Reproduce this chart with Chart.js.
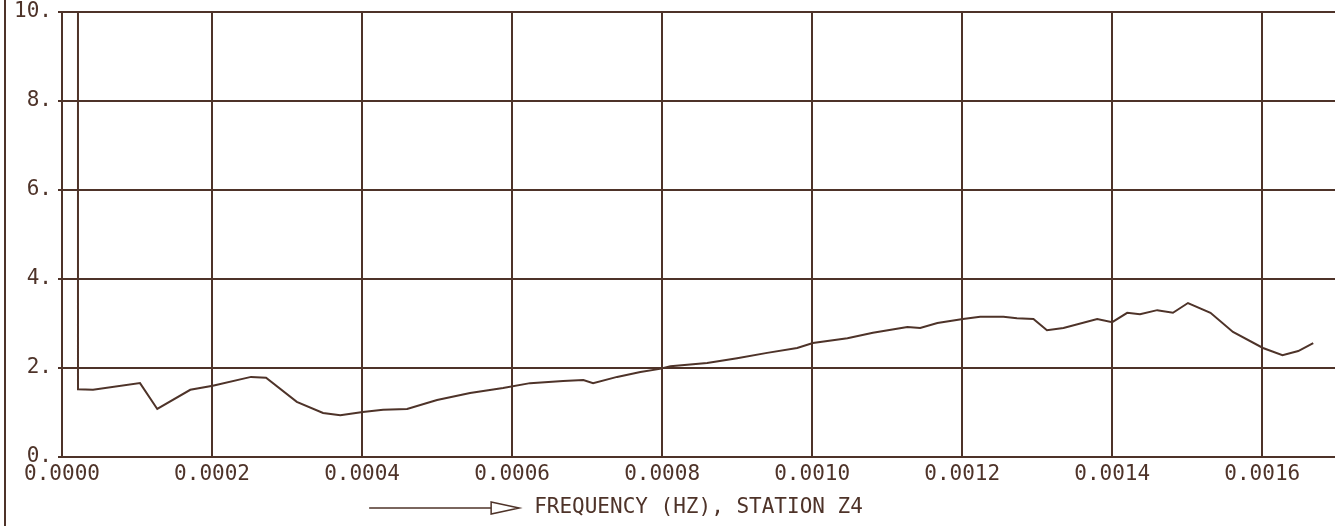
<!DOCTYPE html>
<html>
<head>
<meta charset="utf-8">
<script src="https://cdn.jsdelivr.net/npm/chart.js@4.4.1/dist/chart.umd.min.js"></script>
<style>
  html, body { margin: 0; padding: 0; background: #ffffff; overflow: hidden; }
  #wrap { position: absolute; left: 0; top: 0; width: 1335px; height: 526px; }
</style>
</head>
<body>
<div id="wrap"><canvas id="c" width="1335" height="526"></canvas></div>
<script>
// Frequency (Hz) and amplitude values
const frequency = [
  0.0000213, 0.0000213, 0.0000413, 0.000104, 0.000127, 0.000171, 0.000201, 0.000252,
  0.000272, 0.000313, 0.000348, 0.000371, 0.000401, 0.000428, 0.000460, 0.000500,
  0.000544, 0.000588, 0.000624, 0.000668, 0.000695, 0.000708, 0.000740, 0.000771,
  0.000797, 0.000811, 0.000860, 0.000900, 0.000940, 0.000980, 0.001001, 0.001047,
  0.001081, 0.001113, 0.001127, 0.001144, 0.001167, 0.001201, 0.001224, 0.001255,
  0.001273, 0.001295, 0.001313, 0.001335, 0.001380, 0.001400, 0.001420, 0.001437,
  0.001460, 0.001481, 0.001501, 0.001531, 0.001561, 0.001601, 0.001627, 0.001648,
  0.001668
];
const amplitude = [
  12.0, 1.52, 1.51, 1.66, 1.08, 1.51, 1.60, 1.80,
  1.78, 1.24, 0.99, 0.94, 1.01, 1.06, 1.08, 1.28,
  1.44, 1.55, 1.66, 1.71, 1.73, 1.66, 1.80, 1.91,
  1.98, 2.04, 2.11, 2.22, 2.34, 2.45, 2.56, 2.67,
  2.79, 2.88, 2.92, 2.90, 3.01, 3.10, 3.15, 3.15,
  3.12, 3.10, 2.85, 2.90, 3.10, 3.03, 3.24, 3.21,
  3.30, 3.24, 3.46, 3.24, 2.81, 2.45, 2.29, 2.38,
  2.56
];
const xTickValues = [0, 0.0002, 0.0004, 0.0006, 0.0008, 0.0010, 0.0012, 0.0014, 0.0016];
const xTickLabels = ['0.0000', '0.0002', '0.0004', '0.0006', '0.0008', '0.0010', '0.0012', '0.0014', '0.0016'];
const yTickValues = [0, 2, 4, 6, 8, 10];
const yTickLabels = ['0.', '2.', '4.', '6.', '8.', '10.'];
const xTitle = 'FREQUENCY (HZ), STATION Z4';

const INK = '#4e3329';
const FONT = "'DejaVu Sans Mono', monospace";

const points = frequency.map((f, i) => ({ x: f, y: amplitude[i] }));

const decor = {
  id: 'decor',
  afterDraw(chart) {
    const ctx = chart.ctx;
    ctx.save();
    ctx.strokeStyle = INK;
    ctx.lineWidth = 2;
    // left frame line
    ctx.beginPath();
    ctx.moveTo(5, 0);
    ctx.lineTo(5, chart.height);
    ctx.stroke();
    // arrow before the axis title
    const xs = chart.scales.x;
    const cx = (xs.left + xs.right) / 2;
    ctx.font = "21px " + FONT;
    const w = ctx.measureText(xTitle).width;
    const textLeft = cx - w / 2;
    const y = 508;
    const tip = textLeft - 15;
    const headLen = 28;
    ctx.lineWidth = 1.5;
    ctx.beginPath();
    ctx.moveTo(tip - headLen - 122, y);
    ctx.lineTo(tip - headLen, y);
    ctx.stroke();
    ctx.beginPath();
    ctx.moveTo(tip - headLen, y - 6);
    ctx.lineTo(tip, y);
    ctx.lineTo(tip - headLen, y + 6);
    ctx.closePath();
    ctx.stroke();
    ctx.restore();
  }
};

new Chart(document.getElementById('c'), {
  type: 'line',
  data: {
    datasets: [{
      data: points,
      borderColor: INK,
      borderWidth: 2,
      pointRadius: 0,
      tension: 0,
      fill: false
    }]
  },
  options: {
    responsive: false,
    animation: false,
    events: [],
    layout: { padding: { top: 12, right: 0, bottom: 0, left: 0 } },
    plugins: { legend: { display: false }, tooltip: { enabled: false } },
    scales: {
      x: {
        type: 'linear',
        min: 0,
        max: 0.001697,
        afterBuildTicks(scale) {
          scale.ticks = xTickValues.map(v => ({ value: v }));
        },
        afterFit(scale) { scale.height = 69; },
        ticks: {
          color: INK,
          font: { family: FONT, size: 21 },
          padding: 5,
          maxRotation: 0,
          autoSkip: false,
          callback: (v, i) => xTickLabels[i]
        },
        grid: { color: INK, lineWidth: 2, drawTicks: false },
        border: { color: INK, width: 2 },
        title: {
          display: true,
          text: xTitle,
          color: INK,
          font: { family: FONT, size: 21 },
          padding: { top: 0, bottom: 6 }
        }
      },
      y: {
        type: 'linear',
        min: 0,
        max: 10,
        afterBuildTicks(scale) {
          scale.ticks = yTickValues.map(v => ({ value: v }));
        },
        afterFit(scale) { scale.width = 62; scale.paddingTop = 0; scale.paddingBottom = 0; },
        ticks: {
          color: INK,
          font: { family: FONT, size: 21 },
          padding: 6,
          callback: (v, i) => yTickLabels[i]
        },
        grid: { color: INK, lineWidth: 2, tickLength: 4 },
        border: { color: INK, width: 2 }
      }
    }
  },
  plugins: [decor]
});
</script>
</body>
</html>
